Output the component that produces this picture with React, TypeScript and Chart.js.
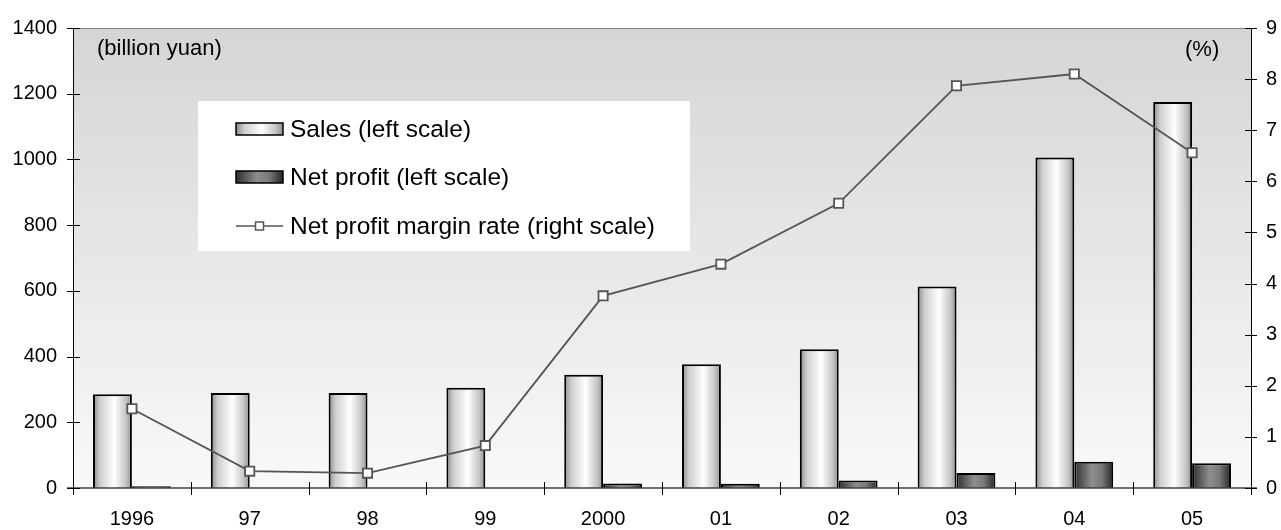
import React, { useEffect, useRef } from "react";
import { Chart, registerables } from "chart.js";

Chart.register(...registerables);

const categories = ["1996", "97", "98", "99", "2000", "01", "02", "03", "04", "05"];
const sales = [285, 289, 289, 305, 345, 377, 422, 613, 1006, 1175];
const netProfit = [5, 0, 0, 0, 14, 13, 23, 46, 80, 75];
const marginRate = [1.55, 0.33, 0.29, 0.83, 3.76, 4.38, 5.57, 7.87, 8.1, 6.56];
const leftTicks = [0, 200, 400, 600, 800, 1000, 1200, 1400];
const rightTicks = [0, 1, 2, 3, 4, 5, 6, 7, 8, 9];
const seriesLabels = ["Sales (left scale)", "Net profit (left scale)", "Net profit margin rate (right scale)"];
const leftUnit = "(billion yuan)";
const rightUnit = "(%)";

const FONT = "'Liberation Sans', Arial, sans-serif";

function salesGradient(ctx: CanvasRenderingContext2D, x0: number, x1: number) {
  const g = ctx.createLinearGradient(x0, 0, x1, 0);
  g.addColorStop(0, "#8a8a8a");
  g.addColorStop(0.18, "#cfcfcf");
  g.addColorStop(0.55, "#ffffff");
  g.addColorStop(0.85, "#c4c4c4");
  g.addColorStop(1, "#8e8e8e");
  return g;
}

function profitGradient(ctx: CanvasRenderingContext2D, x0: number, x1: number) {
  const g = ctx.createLinearGradient(x0, 0, x1, 0);
  g.addColorStop(0, "#2e2e2e");
  g.addColorStop(0.45, "#8e8e8e");
  g.addColorStop(0.7, "#7a7a7a");
  g.addColorStop(1, "#262626");
  return g;
}

const decorPlugin = {
  id: "decor",
  beforeDraw(chart: any) {
    const { ctx, chartArea } = chart;
    const { left, top, right, bottom } = chartArea;
    ctx.save();
    const g = ctx.createLinearGradient(0, top, 0, bottom);
    g.addColorStop(0, "#d5d5d5");
    g.addColorStop(1, "#f9f9f9");
    ctx.fillStyle = g;
    ctx.fillRect(left, top, right - left, bottom - top);
    ctx.restore();
  },
  beforeDatasetsDraw(chart: any) {
    const { ctx } = chart;
    chart.data.datasets.forEach((ds: any, di: number) => {
      if (ds.type !== "bar") return;
      const meta = chart.getDatasetMeta(di);
      meta.data.forEach((el: any) => {
        const x0 = el.x - el.width / 2;
        const x1 = el.x + el.width / 2;
        const bg = di === 1 ? salesGradient(ctx, x0, x1) : profitGradient(ctx, x0, x1);
        el.options = Object.assign({}, el.options, { backgroundColor: bg });
      });
    });
    ctx.save();
    ctx.fillStyle = "#ffffff";
    ctx.fillRect(198, 101, 492, 150);
    ctx.font = `24.5px ${FONT}`;
    ctx.textBaseline = "middle";
    ctx.textAlign = "left";
    const rows = [129, 177, 226];
    const sx = 236, sw = 47;
    ctx.fillStyle = salesGradient(ctx, sx, sx + sw);
    ctx.fillRect(sx, rows[0] - 6, sw, 12);
    ctx.strokeStyle = "#000";
    ctx.lineWidth = 1.5;
    ctx.strokeRect(sx, rows[0] - 6, sw, 12);
    ctx.fillStyle = profitGradient(ctx, sx, sx + sw);
    ctx.fillRect(sx, rows[1] - 6, sw, 12);
    ctx.strokeRect(sx, rows[1] - 6, sw, 12);
    ctx.strokeStyle = "#555";
    ctx.lineWidth = 1.5;
    ctx.beginPath();
    ctx.moveTo(sx, rows[2]);
    ctx.lineTo(sx + sw, rows[2]);
    ctx.stroke();
    ctx.fillStyle = "#fff";
    ctx.fillRect(sx + sw / 2 - 4, rows[2] - 4, 8, 8);
    ctx.strokeRect(sx + sw / 2 - 4, rows[2] - 4, 8, 8);
    ctx.fillStyle = "#000";
    seriesLabels.forEach((t, i) => ctx.fillText(t, 290, rows[i] + 1));
    ctx.restore();
  },
  afterDatasetsDraw(chart: any) {
    const { ctx, chartArea, scales } = chart;
    const { left, top, right, bottom } = chartArea;
    ctx.save();
    ctx.strokeStyle = "#808080";
    ctx.lineWidth = 1;
    ctx.beginPath();
    ctx.moveTo(left, top + 0.5);
    ctx.lineTo(right, top + 0.5);
    ctx.stroke();
    ctx.strokeStyle = "#404040";
    ctx.lineWidth = 1.5;
    ctx.beginPath();
    ctx.moveTo(left - 6, bottom);
    ctx.lineTo(right + 6, bottom);
    ctx.stroke();
    ctx.strokeStyle = "#000";
    ctx.lineWidth = 1;
    const n = categories.length;
    for (let i = 0; i <= n; i++) {
      const x = Math.round(left + ((right - left) * i) / n) + 0.5;
      ctx.beginPath();
      ctx.moveTo(x, bottom - 6);
      ctx.lineTo(x, bottom + 7);
      ctx.stroke();
    }
    ctx.beginPath();
    ctx.moveTo(Math.round(left) + 0.5, top);
    ctx.lineTo(Math.round(left) + 0.5, bottom + 7);
    ctx.stroke();
    leftTicks.forEach((v) => {
      const y = Math.round(scales.y.getPixelForValue(v)) + 0.5;
      ctx.beginPath();
      ctx.moveTo(left - 6, y);
      ctx.lineTo(left + 7, y);
      ctx.stroke();
    });
    ctx.beginPath();
    ctx.moveTo(Math.round(right) + 0.5, top);
    ctx.lineTo(Math.round(right) + 0.5, bottom + 7);
    ctx.stroke();
    rightTicks.forEach((v) => {
      const y = Math.round(scales.y1.getPixelForValue(v)) + 0.5;
      ctx.beginPath();
      ctx.moveTo(right - 6, y);
      ctx.lineTo(right + 6, y);
      ctx.stroke();
    });
    ctx.restore();
  },
  afterDraw(chart: any) {
    const { ctx } = chart;
    ctx.save();
    ctx.fillStyle = "#000";
    ctx.font = `22px ${FONT}`;
    ctx.textBaseline = "middle";
    ctx.textAlign = "left";
    ctx.fillText(leftUnit, 97, 49);
    ctx.fillText(rightUnit, 1185, 50);
    ctx.restore();
  },
};

export default function App() {
  const canvasRef = useRef<HTMLCanvasElement | null>(null);

  useEffect(() => {
    const canvas = canvasRef.current;
    if (!canvas) return;
    Chart.defaults.font.family = FONT;
    Chart.defaults.color = "#000";
    const chart = new Chart(canvas, {
      type: "bar",
      data: {
        labels: categories,
        datasets: [
          {
            type: "line",
            label: seriesLabels[2],
            data: marginRate,
            yAxisID: "y1",
            order: 0,
            borderColor: "#555555",
            borderWidth: 1.8,
            tension: 0,
            pointStyle: "rect",
            pointRadius: 6.5,
            pointBorderWidth: 1.8,
            pointBorderColor: "#555555",
            pointBackgroundColor: "#ffffff",
          } as any,
          {
            type: "bar",
            label: seriesLabels[0],
            data: sales,
            yAxisID: "y",
            order: 1,
            backgroundColor: "#e0e0e0",
            borderColor: "#000",
            borderWidth: 2,
            categoryPercentage: 0.66,
            barPercentage: 1,
          } as any,
          {
            type: "bar",
            label: seriesLabels[1],
            data: netProfit,
            yAxisID: "y",
            order: 1,
            backgroundColor: "#666",
            borderColor: "#000",
            borderWidth: 2,
            categoryPercentage: 0.66,
            barPercentage: 1,
          } as any,
        ],
      },
      options: {
        animation: false,
        responsive: false,
        maintainAspectRatio: false,
        layout: { padding: { top: 27, left: 0, right: 0, bottom: 0 } },
        plugins: {
          legend: { display: false },
          tooltip: { enabled: false },
        },
        scales: {
          x: {
            grid: { display: false, drawTicks: false },
            border: { display: false },
            ticks: { font: { size: 20 }, color: "#000", padding: 19, maxRotation: 0, autoSkip: false },
            afterFit: (s: any) => {
              s.height = 42;
            },
          },
          y: {
            position: "left",
            min: 0,
            max: 1400,
            grid: { display: false, drawTicks: false },
            border: { display: false },
            ticks: {
              stepSize: 200,
              font: { size: 20 },
              color: "#000",
              padding: 16,
              callback: (v: any) => String(v),
            },
            afterFit: (s: any) => {
              s.width = 73;
            },
          },
          y1: {
            position: "right",
            min: 0,
            max: 9,
            grid: { display: false, drawTicks: false },
            border: { display: false },
            ticks: {
              stepSize: 1,
              font: { size: 20 },
              color: "#000",
              padding: 15,
              callback: (v: any) => String(v),
            },
            afterFit: (s: any) => {
              s.width = 30;
            },
          },
        },
      },
      plugins: [decorPlugin],
    });
    return () => chart.destroy();
  }, []);

  return (
    <canvas
      ref={canvasRef}
      width={1281}
      height={530}
      style={{ position: "fixed", left: 0, top: 0, width: 1281, height: 530 }}
    />
  );
}
